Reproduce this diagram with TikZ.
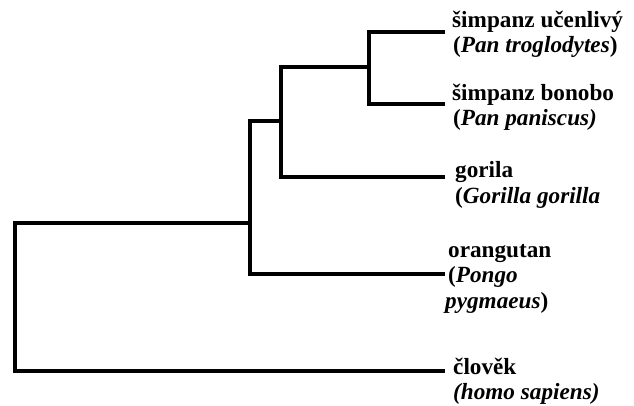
\documentclass[tikz,border=0pt]{standalone}
\usepackage{fontspec}
\setmainfont{Liberation Serif}
\begin{document}
\begin{tikzpicture}[x=1pt,y=-1pt,
  branch/.style={line width=4.5pt,line join=miter,line cap=butt},
  taxon/.style={anchor=base west,inner sep=0pt,font=\fontsize{23.2}{26}\selectfont\bfseries},
  latin/.style={anchor=base west,inner sep=0pt,font=\fontsize{23.2}{26}\selectfont\bfseries}]
\useasboundingbox (0,0) rectangle (634,405);

% leaf tips
\coordinate (tchimp)  at (445,32);
\coordinate (tbonobo) at (445,104);
\coordinate (tgor)    at (445,177);
\coordinate (toran)   at (445,274);
\coordinate (thomo)   at (445,371);

% internal nodes
\coordinate (nchimps) at (369,67);
\coordinate (ngor)    at (281,121);
\coordinate (noran)   at (250,223);
\coordinate (nroot)   at (15,223);

% branches
\draw[branch] (tchimp) -| (nchimps) |- (tbonobo);
\draw[branch] (nchimps) -| (ngor) |- (tgor);
\draw[branch] (ngor) -| (noran) |- (toran);
\draw[branch] (noran) -- (nroot) |- (thomo);

% labels
\node[taxon] (chimpA) at (452,27) {šimpanz učenlivý};
\node[latin] (chimpB) at (453,52) {(\textit{Pan troglodytes})};
\node[taxon] (bonoA) at (452,100) {šimpanz bonobo};
\node[latin] (bonoB) at (453,125) {(\textit{Pan paniscus)}};
\node[taxon] (gorA) at (455,177) {gorila};
\node[latin] (gorB) at (455,203) {(\textit{Gorilla gorilla}};
\node[taxon] (oranA) at (448,257) {orangutan};
\node[latin] (oranB) at (448,282) {(\textit{Pongo}};
\node[latin] (oranC) at (445,308) {\textit{pygmaeus})};
\node[taxon] (homoA) at (453,374) {člověk};
\node[latin] (homoB) at (453,399) {\textit{(homo sapiens)}};
\end{tikzpicture}
\end{document}
